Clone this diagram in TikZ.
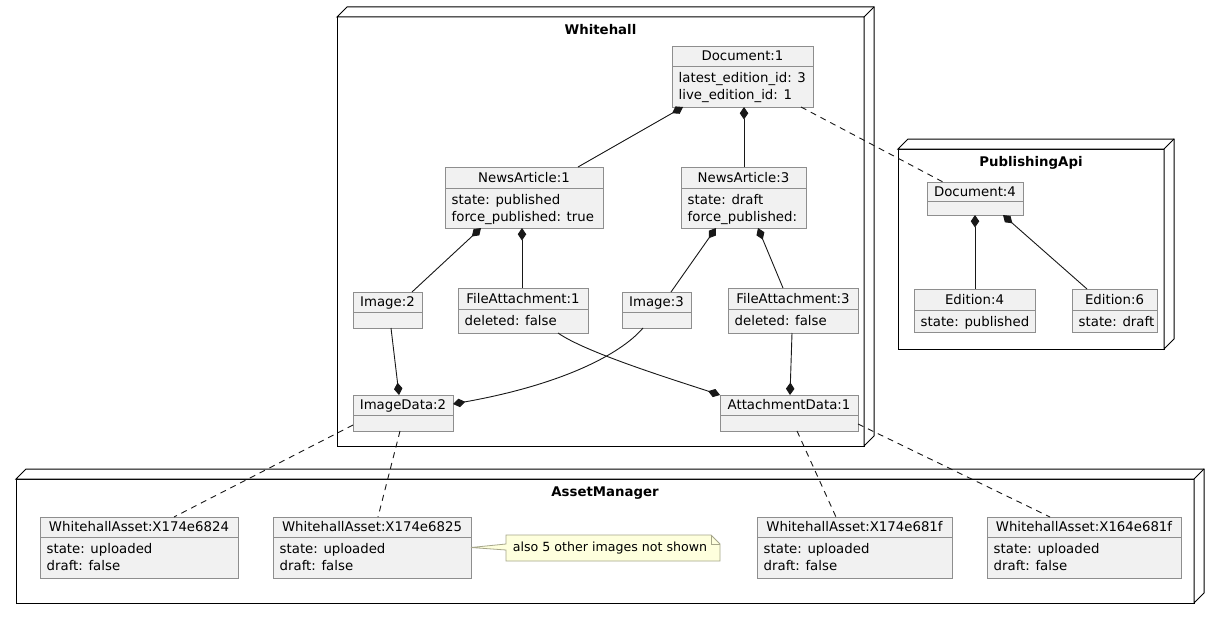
\documentclass[tikz,border=0pt]{standalone}
\usepackage{fontspec}
\setmainfont{DejaVu Sans}
\usetikzlibrary{arrows.meta,calc}
\definecolor{boxfill}{HTML}{F1F1F1}
\definecolor{boxline}{HTML}{8E8E8E}
\definecolor{notefill}{HTML}{FEFFDD}
\definecolor{noteline}{HTML}{A6A68A}
\definecolor{conn}{HTML}{181818}
\tikzset{
  cls/.style={draw=boxline, fill=boxfill, line width=0.9pt, inner sep=0pt, outer sep=0pt, rectangle},
  divline/.style={draw=boxline, line width=0.9pt},
  clstitle/.style={inner sep=0pt, anchor=base, font=\fontsize{13.3}{16}\selectfont},
  clsattr/.style={inner sep=0pt, anchor=north west, align=left, font=\fontsize{13.3}{17}\selectfont},
  frm/.style={draw=black, fill=white, line width=1pt, inner sep=0pt, outer sep=0pt, rectangle},
  frmline/.style={draw=black, line width=1pt, line join=miter},
  frmtitle/.style={inner sep=0pt, anchor=base, font=\bfseries\fontsize{13.3}{16}\selectfont},
  comp/.style={draw=conn, line width=0.9pt},
  dia/.tip={Diamond[length=12.5pt,width=8.5pt]},
  depend/.style={draw=conn, line width=0.9pt, dash pattern=on 6pt off 5pt},
  notetext/.style={inner sep=0pt, font=\fontsize{12.6}{15}\selectfont},
}
\newcommand\classbox[8]{%
  \node[cls, minimum width={(#4)-(#2)}, minimum height={(#5)-(#3)}] (#1) at ({((#2)+(#4))/2},{((#3)+(#5))/2}) {};
  \draw[divline] ([yshift={(#3)-(#6)}]#1.north west) -- ([yshift={(#3)-(#6)}]#1.north east);
  \node[clstitle] (#1-t) at ({((#2)+(#4))/2},{((#3)+(#6))/2+4.8}) {#7};
  \node[clsattr] (#1-a) at ({(#2)+6.5},{(#6)+4.6}) {\strut#8};
}
\newcommand\umlnode[6]{%
  \node[frm, minimum width={(#4)-(#2)}, minimum height={(#5)-(#3)}] (#1) at ({((#2)+(#4))/2},{((#3)+(#5))/2}) {};
  \draw[frmline, fill=white] (#1.north west) -- ++(10,-10) -- ([shift={(10pt,10pt)}]#1.north east) -- ([shift={(10pt,10pt)}]#1.south east) -- (#1.south east) -- (#1.north east) -- cycle;
  \draw[frmline] (#1.north east) -- ++(10,-10);
  \node[frmtitle] (#1-t) at ({((#2)+(#4))/2},{(#3)+17.5}) {#6};
}
\begin{document}
\begin{tikzpicture}[x=1pt,y=-1pt]
\useasboundingbox[fill=white] (0,0) rectangle (1220,618);

% frames
\umlnode{wh}{337}{17}{864}{446}{Whitehall}
\umlnode{pa}{898}{149}{1164}{349}{PublishingApi}
\umlnode{am}{16}{479}{1194}{603}{AssetManager}

% Whitehall classes
\classbox{d1}{672}{46}{813}{107}{66}{Document:1}{latest\_edition\_id: 3\\live\_edition\_id: 1}
\classbox{na1}{445}{167}{603}{228}{188}{NewsArticle:1}{state: published\\force\_published: true}
\classbox{na3}{681}{167}{806}{228}{188}{NewsArticle:3}{state: draft\\force\_published:}
\classbox{im2}{353}{292}{422}{328}{312}{Image:2}{}
\classbox{fa1}{458}{288}{588}{333}{309}{FileAttachment:1}{deleted: false}
\classbox{im3}{622}{292}{691}{328}{312}{Image:3}{}
\classbox{fa3}{728}{288}{858}{333}{309}{FileAttachment:3}{deleted: false}
\classbox{id2}{353}{395}{453}{431}{415}{ImageData:2}{}
\classbox{ad1}{720}{395}{858}{431}{415}{AttachmentData:1}{}

% PublishingApi classes
\classbox{d4}{927}{182}{1023}{215}{201}{Document:4}{}
\classbox{e4}{914}{289}{1035}{332}{310}{Edition:4}{state: published}
\classbox{e6}{1072}{289}{1157}{332}{310}{Edition:6}{state: draft}

% AssetManager classes
\classbox{wa1}{40}{517}{238}{578}{537}{WhitehallAsset:X174e6824}{state: uploaded\\draft: false}
\classbox{wa2}{273}{517}{471}{578}{537}{WhitehallAsset:X174e6825}{state: uploaded\\draft: false}
\classbox{wa3}{757}{517}{952}{578}{537}{WhitehallAsset:X174e681f}{state: uploaded\\draft: false}
\classbox{wa4}{987}{517}{1181}{578}{537}{WhitehallAsset:X164e681f}{state: uploaded\\draft: false}

% note
\node[minimum width=214pt, minimum height=26pt, inner sep=0pt, outer sep=0pt] (note) at (613,548) {};
\draw[draw=noteline, fill=notefill, line width=0.8pt, line join=miter]
  (note.north west) -- ([yshift=4pt]note.west) -- (wa2.east) -- ([yshift=-2pt]note.west)
  -- (note.south west) -- (note.south east) -- ([yshift=-9pt]note.north east)
  -- ([xshift=-9pt]note.north east) -- cycle;
\draw[draw=noteline, line width=0.8pt, line join=miter]
  ([xshift=-9pt]note.north east) -- ([xshift=-9pt,yshift=-9pt]note.north east) -- ([yshift=-9pt]note.north east);
\node[notetext] (note-t) at ([xshift=-3pt,yshift=-0.5pt]note.center) {also 5 other images not shown};

% composition connectors (diamond at owner)
\draw[comp, {dia}-] ([xshift=11pt]d1.south west) -- ([xshift=133pt]na1.north west);
\draw[comp, {dia}-] ([xshift=72pt]d1.south west) -- ([xshift=63pt]na3.north west);
\draw[comp, {dia}-] ([xshift=36pt]na1.south west) -- ([xshift=59pt]im2.north west);
\draw[comp, {dia}-] ([xshift=77pt]na1.south west) -- ([xshift=64pt]fa1.north west);
\draw[comp, {dia}-] ([xshift=35pt]na3.south west) -- ([xshift=49pt]im3.north west);
\draw[comp, {dia}-] ([xshift=77pt]na3.south west) -- ([xshift=55pt]fa3.north west);
\draw[comp, -{dia}] ([xshift=38pt]im2.south west) -- ([xshift=46pt]id2.north west);
\draw[comp, -{dia}] ([xshift=21pt]im3.south west) .. controls (620,355) and (560,385) .. ([yshift=-9pt]id2.north east);
\draw[comp, -{dia}] ([xshift=100pt]fa1.south west) .. controls (585,352) and (668,378) .. (ad1.north west);
\draw[comp, -{dia}] ([xshift=64pt]fa3.south west) -- ([xshift=70pt]ad1.north west);
\draw[comp, {dia}-] ([xshift=48pt]d4.south west) -- ([xshift=61pt]e4.north west);
\draw[comp, {dia}-] ([xshift=76pt]d4.south west) -- ([xshift=15pt]e6.north west);

% dependencies (dashed)
\draw[depend] ([xshift=129pt]d1.south west) -- ([xshift=16pt]d4.north west);
\draw[depend] ([yshift=6pt]id2.south west) -- ([xshift=134pt]wa1.north west);
\draw[depend] ([xshift=47pt]id2.south west) -- ([xshift=105pt]wa2.north west);
\draw[depend] ([xshift=77pt]ad1.south west) -- ([xshift=79pt]wa3.north west);
\draw[depend] ([yshift=7pt]ad1.south east) -- ([xshift=63pt]wa4.north west);
\end{tikzpicture}
\end{document}
